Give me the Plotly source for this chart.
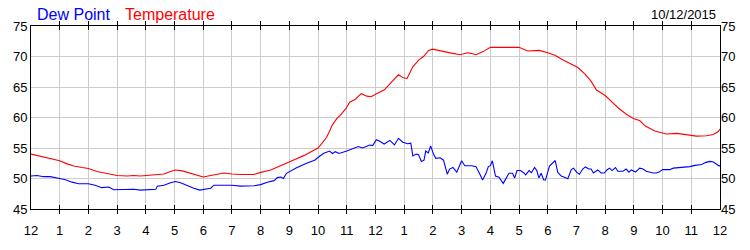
import plotly.graph_objects as go

temp_hours = [0.0, 0.33, 0.67, 1.0, 1.26, 1.49, 1.78, 2.0, 2.30, 2.53, 2.77, 3.0, 3.35, 3.58, 3.81, 4.0,
              4.28, 4.63, 4.86, 5.03, 5.27, 5.56, 5.79, 6.0, 6.26, 6.49, 6.72, 7.0, 7.30, 7.77, 8.0,
              8.35, 8.67, 9.0, 9.13, 9.5, 9.77, 10.0, 10.3, 10.5, 10.65, 10.76, 10.96, 11.1, 11.3,
              11.5, 11.7, 11.85, 12.08, 12.3, 12.5, 12.8, 12.97, 13.1, 13.3, 13.5, 13.67, 13.85, 14.0,
              14.25, 14.6, 14.95, 15.2, 15.35, 15.5, 15.75, 16.0, 16.5, 17.0, 17.3, 17.7, 18.0, 18.25,
              18.5, 18.8, 19.05, 19.3, 19.5, 19.7, 20.0, 20.27, 20.5, 20.75, 21.0, 21.2, 21.4, 21.73,
              22.0, 22.13, 22.5, 22.95, 23.18, 23.53, 23.77, 23.94, 24.0]
temperature = [54.0, 53.65, 53.3, 52.9, 52.4, 52.05, 51.8, 51.65, 51.15, 50.9, 50.75, 50.5, 50.4, 50.5, 50.4, 50.5,
               50.55, 50.75, 51.15, 51.4, 51.25, 50.9, 50.5, 50.25, 50.5, 50.75, 50.9, 50.75, 50.65, 50.65, 51.0,
               51.4, 52.1, 52.8, 53.0, 53.75, 54.4, 55.0, 56.75, 58.8, 59.8, 60.3, 61.4, 62.5, 63.0,
               63.9, 63.5, 63.4, 64.0, 64.5, 65.5, 67.0, 66.5, 66.4, 68.3, 69.4, 70.0, 71.0, 71.2,
               71.0, 70.6, 70.3, 70.6, 70.5, 70.3, 70.8, 71.5, 71.5, 71.5, 70.9, 71.0, 70.6, 70.2,
               69.5, 68.8, 68.2, 67.1, 66.0, 64.5, 63.6, 62.4, 61.4, 60.5, 59.8, 59.5, 58.6, 57.8,
               57.5, 57.3, 57.4, 57.1, 56.95, 57.0, 57.2, 57.7, 58.1]

dew_hours = [0.0, 0.21, 0.44, 0.67, 1.0, 1.20, 1.43, 1.66, 2.0, 2.23, 2.47, 2.71, 2.88, 3.0, 3.35, 3.58,
             3.81, 4.0, 4.35, 4.40, 4.63, 4.86, 5.03, 5.21, 5.44, 5.67, 5.88, 6.08, 6.26, 6.37, 7.0,
             7.30, 7.77, 8.0, 8.23, 8.47, 8.58, 8.70, 8.79, 8.9, 9.25, 9.6, 9.88, 10.05, 10.2, 10.4,
             10.5, 10.6, 10.73, 11.0, 11.2, 11.4, 11.55, 11.8, 11.9, 12.03, 12.15, 12.3, 12.5, 12.66,
             12.8, 12.95, 13.12, 13.23, 13.3, 13.42, 13.5, 13.6, 13.69, 13.75, 13.84, 13.92, 14.02,
             14.1, 14.25, 14.37, 14.5, 14.58, 14.7, 14.83, 15.0, 15.11, 15.35, 15.5, 15.62, 15.73,
             15.85, 15.93, 16.0, 16.07, 16.18, 16.3, 16.45, 16.54, 16.65, 16.77, 16.85, 16.93, 17.05,
             17.16, 17.23, 17.35, 17.43, 17.54, 17.62, 17.69, 17.77, 17.86, 17.92, 18.06, 18.16,
             18.26, 18.35, 18.47, 18.58, 18.7, 18.82, 18.9, 19.01, 19.1, 19.22, 19.31, 19.43, 19.51,
             19.59, 19.74, 19.86, 19.97, 20.06, 20.15, 20.24, 20.36, 20.44, 20.62, 20.73, 20.83,
             20.91, 21.06, 21.2, 21.32, 21.43, 21.55, 21.67, 21.78, 21.88, 22.0, 22.25, 22.37, 22.66,
             22.78, 22.95, 23.13, 23.36, 23.51, 23.65, 23.77, 23.88, 23.97, 24.0]
dew_point = [50.4, 50.5, 50.3, 50.3, 50.0, 49.8, 49.4, 49.15, 49.15, 48.9, 48.5, 48.6, 48.15, 48.15, 48.15, 48.25,
             48.1, 48.15, 48.25, 48.75, 48.9, 49.3, 49.5, 49.3, 48.8, 48.4, 48.1, 48.3, 48.4, 48.9, 48.9,
             48.75, 48.8, 49.0, 49.4, 49.65, 50.15, 50.25, 50.0, 50.85, 51.75, 52.5, 53.0, 53.65, 54.15, 54.5,
             54.1, 54.4, 54.1, 54.5, 54.9, 55.25, 55.0, 55.5, 55.4, 56.35, 56.1, 55.65, 56.25, 55.5,
             56.6, 55.95, 55.7, 55.8, 53.7, 54.0, 53.9, 52.8, 53.0, 54.5, 54.2, 55.35, 54.0,
             53.3, 53.4, 53.0, 50.7, 51.55, 51.8, 51.05, 52.9, 52.1, 52.1, 51.95, 50.85, 49.75,
             50.85, 51.95, 52.1, 52.9, 50.4, 50.2, 49.2, 49.95, 50.85, 50.85, 50.1, 51.3, 51.3,
             50.95, 50.6, 51.3, 50.95, 51.8, 51.3, 50.1, 50.85, 49.75, 49.75, 52.05, 52.55,
             52.95, 51.0, 50.4, 50.2, 49.95, 51.45, 51.7, 51.0, 50.7, 51.55, 51.9, 51.55, 51.55,
             50.9, 51.4, 50.9, 50.9, 51.4, 51.7, 51.3, 51.8, 51.2, 51.2, 51.55, 51.05,
             51.4, 51.05, 51.7, 51.55, 51.2, 51.05, 50.9, 50.9, 51.05, 51.45, 51.45, 51.7, 51.8,
             51.95, 51.95, 52.15, 52.3, 52.65, 52.8, 52.7, 52.4, 52.05, 52.15]

x_tick_vals = list(range(25))
x_tick_text = ["12", "1", "2", "3", "4", "5", "6", "7", "8", "9", "10", "11",
               "12", "1", "2", "3", "4", "5", "6", "7", "8", "9", "10", "11", "12"]
y_tick_vals = [45, 50, 55, 60, 65, 70, 75]
date_label = "10/12/2015"

FONT = "Arial, Liberation Sans, sans-serif"

fig = go.Figure()
fig.add_trace(go.Scatter(x=dew_hours, y=dew_point, mode="lines", name="Dew Point",
                         line=dict(color="#0000FF", width=1.1), showlegend=False))
fig.add_trace(go.Scatter(x=temp_hours, y=temperature, mode="lines", name="Temperature",
                         line=dict(color="#FF0000", width=1.1), showlegend=False, yaxis="y2"))

fig.update_layout(
    width=750, height=250,
    margin=dict(l=31, r=30, t=26, b=25),
    paper_bgcolor="white", plot_bgcolor="white",
    font=dict(family=FONT, size=13, color="black"),
    xaxis=dict(range=[0, 24], tickvals=x_tick_vals, ticktext=x_tick_text,
               showgrid=True, gridcolor="#CCCCCC", gridwidth=1,
               showline=True, linecolor="black", linewidth=1, mirror="allticks",
               ticks="inside", ticklen=4, tickcolor="black", ticklabelstandoff=9,
               tickfont=dict(size=13), zeroline=False),
    yaxis=dict(range=[45, 75], tickvals=y_tick_vals,
               showgrid=True, gridcolor="#CCCCCC", gridwidth=1,
               showline=True, linecolor="black", linewidth=1, mirror=True,
               ticks="", tickfont=dict(size=13), zeroline=False),
    yaxis2=dict(range=[45, 75], tickvals=y_tick_vals, overlaying="y", side="right",
                showgrid=False, showline=False, ticks="", tickfont=dict(size=13),
                zeroline=False),
    annotations=[
        dict(text="Dew Point", x=35, y=13, xref="paper", yref="paper", showarrow=False,
             font=dict(size=16, color="#0000FF", family=FONT), xanchor="left", yanchor="middle"),
        dict(text="Temperature", x=123, y=13, xref="paper", yref="paper", showarrow=False,
             font=dict(size=16, color="#FF0000", family=FONT), xanchor="left", yanchor="middle"),
        dict(text=date_label, x=718, y=13, xref="paper", yref="paper", showarrow=False,
             font=dict(size=13, color="black", family=FONT), xanchor="right", yanchor="middle"),
    ],
)

# convert pixel positions of annotations to paper coords
pw, ph = 750 - 31 - 30, 250 - 26 - 25
for a in fig.layout.annotations:
    a.x = (a.x - 31) / pw
    a.y = 1 + (26 - a.y) / ph

fig.write_html("out.html")
